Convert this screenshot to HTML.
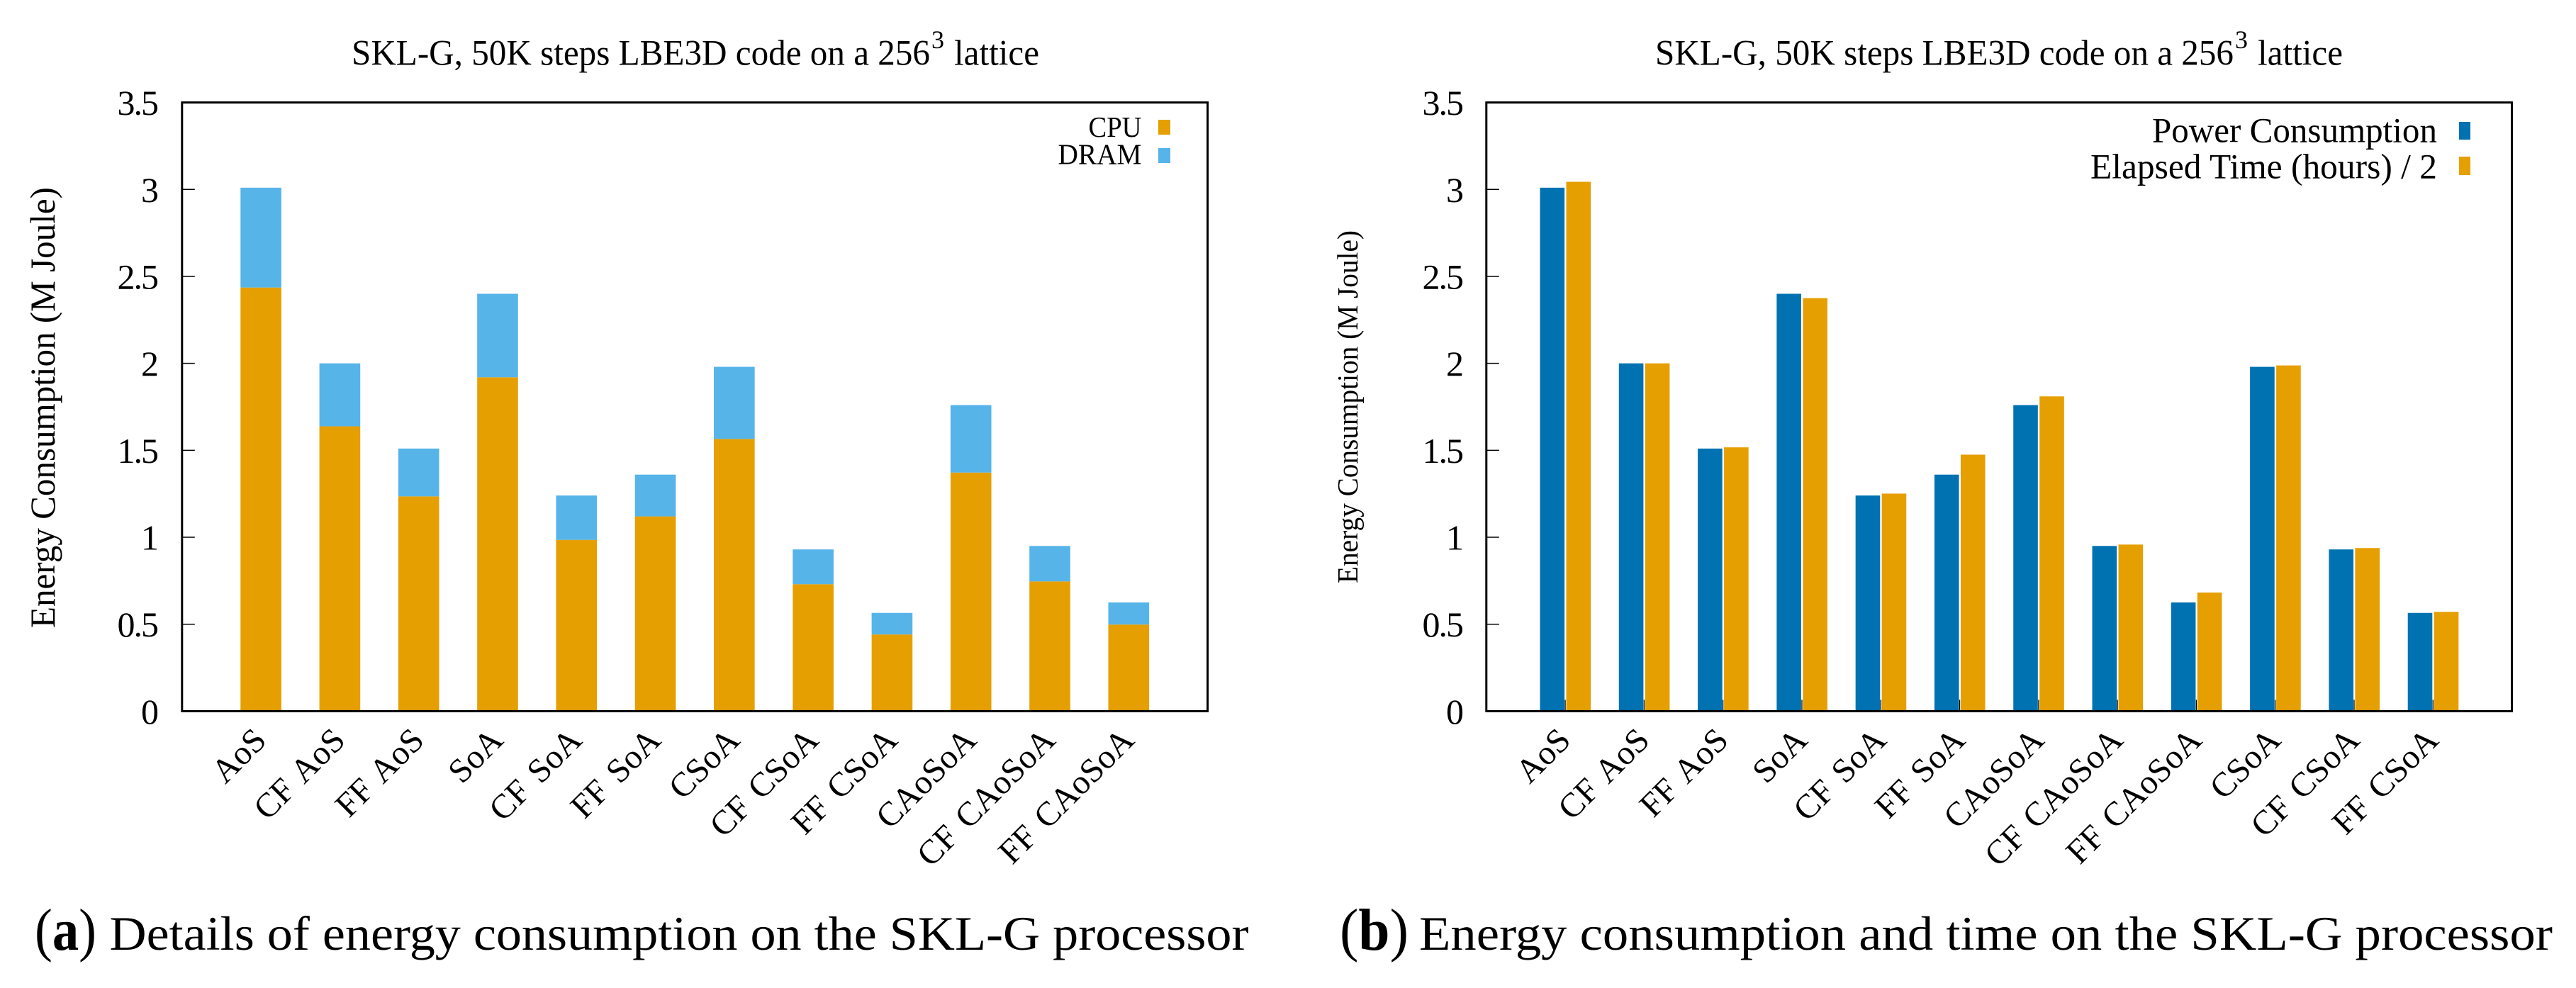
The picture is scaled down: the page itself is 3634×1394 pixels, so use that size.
<!DOCTYPE html>
<html lang="en">
<head>
<meta charset="utf-8">
<title>SKL-G energy consumption</title>
<style>
html,body{margin:0;padding:0;background:#fff;}
svg{display:block;}
text{font-family:"Liberation Serif",serif;fill:#000;}
</style>
</head>
<body>
<svg id="fig" xmlns="http://www.w3.org/2000/svg" width="3634" height="1394" viewBox="0 0 3634 1394">
  <rect x="0" y="0" width="3634" height="1394" fill="#fff"/>

  <g id="chart-a">
    <text x="496" y="91.5" font-size="51" textLength="816" lengthAdjust="spacingAndGlyphs">SKL-G, 50K steps LBE3D code on a 256</text>
    <text x="1314" y="68" font-size="36">3</text>
    <text x="1346" y="91.5" font-size="51" textLength="120" lengthAdjust="spacingAndGlyphs">lattice</text>
    <text transform="translate(77,575) rotate(-90)" text-anchor="middle" font-size="50" textLength="622" lengthAdjust="spacingAndGlyphs">Energy Consumption (M Joule)</text>
    <text x="1610.5" y="193" text-anchor="end" font-size="41" textLength="75" lengthAdjust="spacingAndGlyphs">CPU</text>
    <rect x="1634" y="169" width="17" height="21" fill="#e69f00"/>
    <text x="1610.5" y="231.5" text-anchor="end" font-size="41" textLength="118" lengthAdjust="spacingAndGlyphs">DRAM</text>
    <rect x="1634" y="209" width="17" height="21" fill="#56b4e9"/>
  </g>

  <g id="chart-b">
    <text x="2335" y="91.5" font-size="51" textLength="816" lengthAdjust="spacingAndGlyphs">SKL-G, 50K steps LBE3D code on a 256</text>
    <text x="3153" y="68" font-size="36">3</text>
    <text x="3185" y="91.5" font-size="51" textLength="120" lengthAdjust="spacingAndGlyphs">lattice</text>
    <text transform="translate(1915,574) rotate(-90)" text-anchor="middle" font-size="41" textLength="498" lengthAdjust="spacingAndGlyphs">Energy Consumption (M Joule)</text>
    <text x="3438" y="200.5" text-anchor="end" font-size="50" textLength="402" lengthAdjust="spacingAndGlyphs">Power Consumption</text>
    <rect x="3469" y="172" width="16" height="25" fill="#0072b2"/>
    <text x="3438" y="251.5" text-anchor="end" font-size="50" textLength="489" lengthAdjust="spacingAndGlyphs">Elapsed Time (hours) / 2</text>
    <rect x="3469" y="221" width="16" height="26" fill="#e69f00"/>
  </g>

  <g id="captions">
    <text x="49" y="1340" font-size="84" textLength="87" lengthAdjust="spacingAndGlyphs">(<tspan font-weight="bold">a</tspan>)</text>
    <text x="154.5" y="1340" font-size="68" textLength="1607" lengthAdjust="spacingAndGlyphs">Details of energy consumption on the SKL-G processor</text>
    <text x="1890" y="1340" font-size="84" textLength="97" lengthAdjust="spacingAndGlyphs">(<tspan font-weight="bold">b</tspan>)</text>
    <text x="2002" y="1340" font-size="68" textLength="1599" lengthAdjust="spacingAndGlyphs">Energy consumption and time on the SKL-G processor</text>
  </g>
</svg>

<script>
// Shared axis data
const yTickValues = [0, 0.5, 1, 1.5, 2, 2.5, 3, 3.5];
const yTickLabels = ['0', '0.5', '1', '1.5', '2', '2.5', '3', '3.5'];

// Chart (a): stacked CPU + DRAM energy
const categoriesA = ['AoS', 'CF AoS', 'FF AoS', 'SoA', 'CF SoA', 'FF SoA', 'CSoA', 'CF CSoA', 'FF CSoA', 'CAoSoA', 'CF CAoSoA', 'FF CAoSoA'];
const cpuValues = [2.436, 1.638, 1.235, 1.92, 0.985, 1.12, 1.565, 0.73, 0.441, 1.372, 0.746, 0.498];
const dramValues = [0.574, 0.362, 0.275, 0.48, 0.255, 0.24, 0.415, 0.2, 0.124, 0.388, 0.204, 0.127];

// Chart (b): energy and elapsed time
const categoriesB = ['AoS', 'CF AoS', 'FF AoS', 'SoA', 'CF SoA', 'FF SoA', 'CAoSoA', 'CF CAoSoA', 'FF CAoSoA', 'CSoA', 'CF CSoA', 'FF CSoA'];
const powerValues = [3.01, 2.0, 1.51, 2.4, 1.24, 1.36, 1.76, 0.95, 0.625, 1.98, 0.93, 0.565];
const timeValues = [3.044, 2.0, 1.517, 2.375, 1.251, 1.475, 1.81, 0.958, 0.682, 1.988, 0.938, 0.571];

const NS = 'http://www.w3.org/2000/svg';
const ORANGE = '#e69f00', SKY = '#56b4e9', BLUE = '#0072b2';
const plotTop = 144.6, plotBottom = 1003.4, yMax = 3.5;

function yScale(v) {
  return plotBottom - (v / yMax) * (plotBottom - plotTop);
}
function makeXScale(left, right, count) {
  const step = (right - left) / (count + 1);
  return function (i) { return left + (i + 1) * step; };
}
function el(parent, tag, attrs) {
  const node = document.createElementNS(NS, tag);
  for (const k in attrs) node.setAttribute(k, attrs[k]);
  parent.appendChild(node);
  return node;
}
function drawBar(parent, x, w, v0, v1, fill, name) {
  const y1 = yScale(v1), y0 = yScale(v0);
  const r = el(parent, 'rect', { x: x, y: y1, width: w, height: y0 - y1, fill: fill });
  
  
  return r;
}
function drawFrameAndTicks(parent, left, right, labelRight, xScale, categories, prefix) {
  yTickValues.forEach(function (v, i) {
    const y = yScale(v);
    const tick = el(parent, 'line', { x1: left, x2: left + 18, y1: y, y2: y, stroke: '#000', 'stroke-width': 1.5 });
    
    
    const label = yTickLabels[i];
    const multi = label.length > 1;
    const t = el(parent, 'text', { x: multi ? labelRight - 2 : labelRight, y: y + 17.5, 'text-anchor': 'end', 'font-size': 50 });
    if (multi) t.setAttribute('letter-spacing', '-2');
    t.textContent = label;
    
    
  });
  categories.forEach(function (c, i) {
    const x = xScale(i);
    const tick = el(parent, 'line', { x1: x, x2: x, y1: plotBottom, y2: plotBottom - 16, stroke: '#000', 'stroke-width': 1.2 });
    
    
  });
}
function drawCategoryLabels(parent, xScale, categories, prefix) {
  categories.forEach(function (c, i) {
    const ax = xScale(i) + 10, ay = 1047;
    const t = el(parent, 'text', { transform: 'translate(' + ax + ',' + ay + ') rotate(-45)', 'text-anchor': 'end', 'font-size': 48, 'word-spacing': 5 });
    t.textContent = c;
    
    
  });
}
function drawBorder(parent, left, right, prefix) {
  const r = el(parent, 'rect', { x: left, y: plotTop, width: right - left, height: plotBottom - plotTop, fill: 'none', stroke: '#000', 'stroke-width': 3 });
  
  
}

// Chart (a)
(function () {
  const g = document.getElementById('chart-a');
  const left = 256.8, right = 1703.6;
  const x = makeXScale(left, right, categoriesA.length);
  drawFrameAndTicks(g, left, right, 224, x, categoriesA, 'chart-a');
  categoriesA.forEach(function (c, i) {
    drawBar(g, x(i) - 28.8, 57.6, 0, cpuValues[i], ORANGE, 'bar-cpu');
    drawBar(g, x(i) - 28.8, 57.6, cpuValues[i], cpuValues[i] + dramValues[i], SKY, 'bar-dram');
  });
  drawCategoryLabels(g, x, categoriesA, 'chart-a');
  drawBorder(g, left, right, 'chart-a');
})();

// Chart (b)
(function () {
  const g = document.getElementById('chart-b');
  const left = 2096.8, right = 3543.6;
  const x = makeXScale(left, right, categoriesB.length);
  drawFrameAndTicks(g, left, right, 2065, x, categoriesB, 'chart-b');
  categoriesB.forEach(function (c, i) {
    drawBar(g, x(i) - 35.6, 34.6, 0, powerValues[i], BLUE, 'bar-power');
    drawBar(g, x(i) + 1.4, 34.6, 0, timeValues[i], ORANGE, 'bar-time');
  });
  drawCategoryLabels(g, x, categoriesB, 'chart-b');
  drawBorder(g, left, right, 'chart-b');
})();
</script>
</body>
</html>
